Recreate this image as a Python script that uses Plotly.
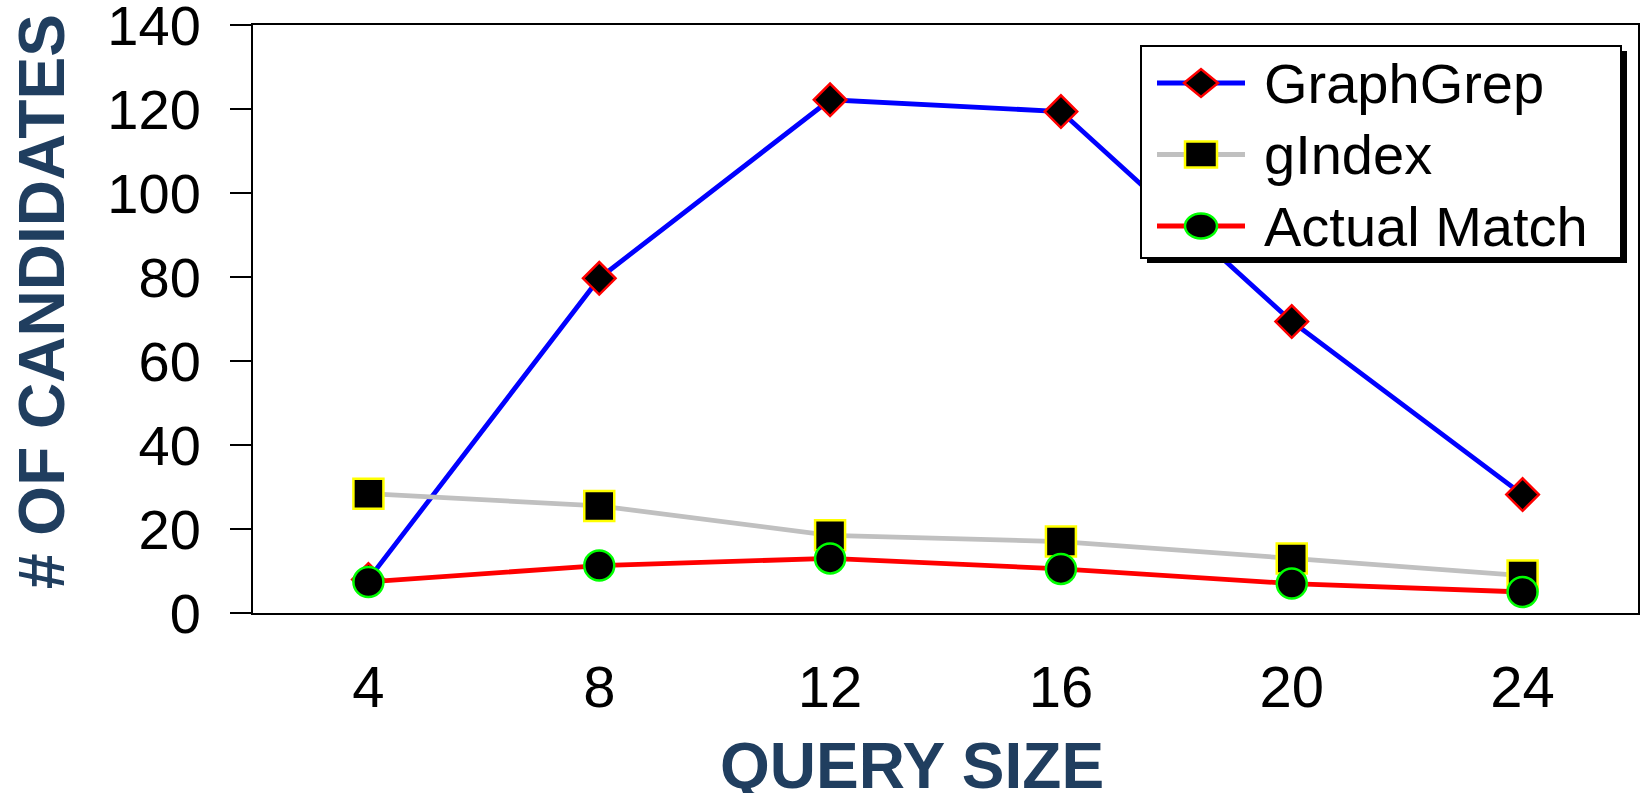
import plotly.graph_objects as go

# ---- data ----
query_size = [4, 8, 12, 16, 20, 24]
graphgrep = [8, 79.7, 122.2, 119.4, 69.4, 28.2]
gindex = [28.4, 25.5, 18.5, 17.0, 13.0, 8.9]
actual_match = [7.4, 11.3, 13.0, 10.5, 7.0, 5.0]
y_ticks = [0, 20, 40, 60, 80, 100, 120, 140]
series_names = ["GraphGrep", "gIndex", "Actual Match"]

# ---- layout constants (page pixels) ----
W, H = 1640, 793
L, R, T, B = 253, 1638, 25, 613
FONT = "Liberation Sans"
TITLE_COLOR = "#203E5F"


def px(x):
    return (x - L) / (R - L)


def py(y):
    return (B - y) / (B - T)


styles = [
    dict(line="#0000FF", symbol="diamond", size=25, mline="#FF0000"),
    dict(line="#C0C0C0", symbol="square", size=30, mline="#FFFF00"),
    dict(line="#FF0000", symbol="circle", size=30, mline="#00FF00"),
]
values = [graphgrep, gindex, actual_match]

fig = go.Figure()
for name, vals, st in zip(series_names, values, styles):
    fig.add_trace(go.Scatter(
        x=query_size, y=vals, name=name, mode="lines+markers",
        line=dict(color=st["line"], width=4.8),
        marker=dict(symbol=st["symbol"], size=st["size"], color="black",
                    line=dict(color=st["mline"], width=2.5)),
        showlegend=False, cliponaxis=False,
    ))

# ---- manual legend (shapes on a pixel-space overlay axis) ----
leg_x0, leg_x1, leg_y0, leg_y1 = 1141, 1621, 46, 258
row_y0, row_dy = 83, 71.5
key_x0, key_x1, key_xm, text_x = 1157, 1245, 1201, 1262
shapes = [
    dict(type="rect", xref="x2", yref="y2", x0=leg_x0 + 6, x1=leg_x1 + 6,
         y0=leg_y0 + 5, y1=leg_y1 + 5, fillcolor="black", line=dict(width=0), layer="above"),
    dict(type="rect", xref="x2", yref="y2", x0=leg_x0, x1=leg_x1,
         y0=leg_y0, y1=leg_y1, fillcolor="white", line=dict(color="black", width=2), layer="above"),
]
annotations = []
for i, (name, st) in enumerate(zip(series_names, styles)):
    ry = row_y0 + i * row_dy
    shapes.append(dict(type="line", xref="x2", yref="y2", x0=key_x0, x1=key_x1,
                       y0=ry, y1=ry, line=dict(color=st["line"], width=4.8), layer="above"))
    mk = dict(xref="x2", yref="y2", fillcolor="black",
              line=dict(color=st["mline"], width=2.5), layer="above")
    if st["symbol"] == "diamond":
        hw, hh = 17, 14
        path = (f"M{key_xm - hw},{ry} L{key_xm},{ry - hh} L{key_xm + hw},{ry} "
                f"L{key_xm},{ry + hh} Z")
        shapes.append(dict(type="path", path=path, **mk))
    elif st["symbol"] == "square":
        hw, hh = 16, 13
        shapes.append(dict(type="rect", x0=key_xm - hw, x1=key_xm + hw,
                           y0=ry - hh, y1=ry + hh, **mk))
    else:
        hw, hh = 16, 12.5
        shapes.append(dict(type="circle", x0=key_xm - hw, x1=key_xm + hw,
                           y0=ry - hh, y1=ry + hh, **mk))
    annotations.append(dict(xref="paper", yref="paper", x=px(text_x), y=py(ry), text=name,
                            showarrow=False, xanchor="left", yanchor="middle",
                            font=dict(family=FONT, size=56, color="black")))

# axis titles
annotations.append(dict(xref="paper", yref="paper", x=px(912), y=py(766), text="<b>QUERY SIZE</b>",
                        showarrow=False, xanchor="center", yanchor="middle",
                        font=dict(family=FONT, size=64, color=TITLE_COLOR)))
annotations.append(dict(xref="paper", yref="paper", x=px(42), y=py(302), text="<b># OF CANDIDATES</b>",
                        showarrow=False, xanchor="center", yanchor="middle", textangle=-90,
                        font=dict(family=FONT, size=64, color=TITLE_COLOR)))

fig.update_layout(
    width=W, height=H,
    margin=dict(l=L, r=W - R, t=T, b=H - B, pad=0, autoexpand=False),
    paper_bgcolor="white", plot_bgcolor="white",
    font=dict(family=FONT, color="black"),
    shapes=shapes, annotations=annotations,
    xaxis=dict(range=[2, 26], tickvals=query_size, ticks="", showgrid=False, zeroline=False,
               showline=True, linecolor="black", linewidth=2, mirror=True, automargin=False,
               tickfont=dict(family=FONT, size=58, color="black"), ticklabelstandoff=22,
               ticklabeloverflow="allow"),
    yaxis=dict(range=[0, 140], tickvals=y_ticks, ticks="outside", ticklen=21, tickwidth=2,
               tickcolor="black", showgrid=False, zeroline=False, automargin=False,
               showline=True, linecolor="black", linewidth=2, mirror=True,
               tickfont=dict(family=FONT, size=56, color="black"), ticklabelstandoff=18,
               ticklabeloverflow="allow"),
    xaxis2=dict(overlaying="x", range=[L, R], visible=False, automargin=False),
    yaxis2=dict(overlaying="y", range=[B, T], visible=False, automargin=False),
)

fig.write_html(
    "out.html",
    config={"displayModeBar": False},
    post_script="document.body.style.margin='0px';document.body.style.overflow='hidden';",
)
